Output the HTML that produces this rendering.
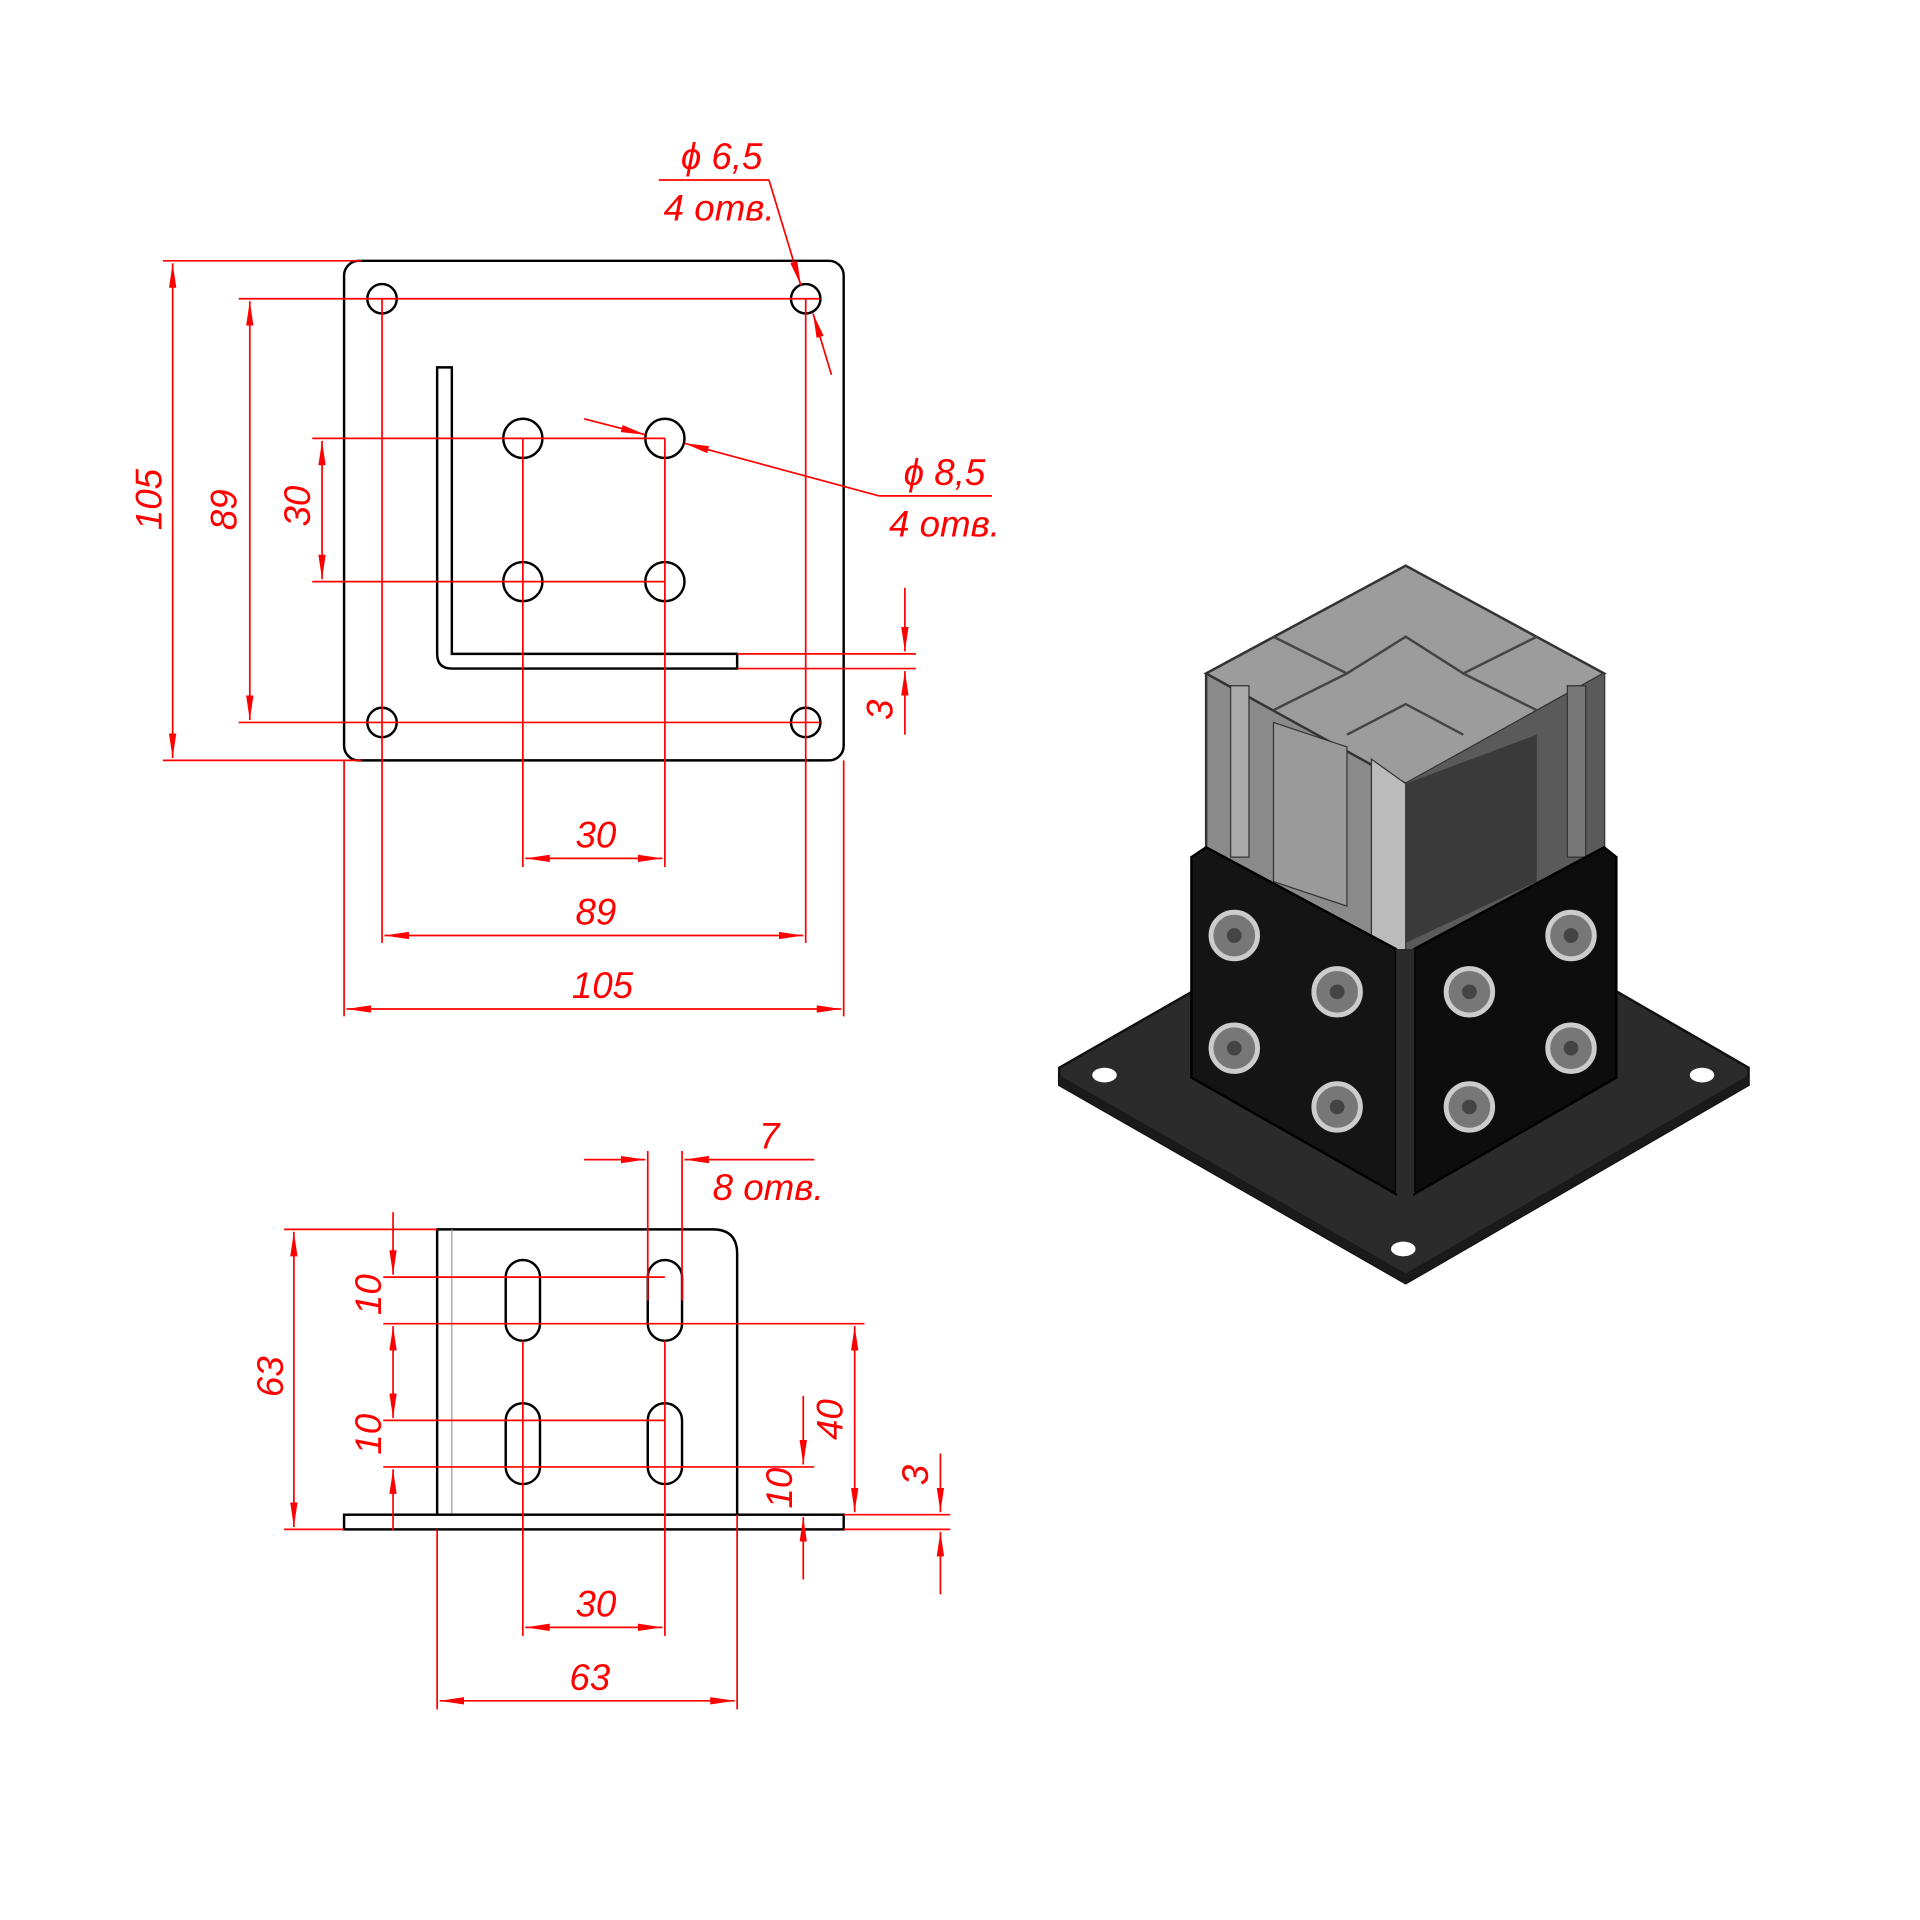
<!DOCTYPE html>
<html><head><meta charset="utf-8"><style>
html,body{margin:0;padding:0;background:#fff}
svg{display:block}
.k{fill:none;stroke:#000;stroke-width:2}
.r{fill:none;stroke:#f00;stroke-width:1.4}
.t{fill:#f00;font-family:"Liberation Sans",sans-serif;font-style:italic;font-size:30px}
</style></head><body>
<svg width="1920" height="1920" viewBox="0 0 1568 1568" xmlns="http://www.w3.org/2000/svg">
<defs>
<marker id="a" viewBox="0 0 20 6" refX="20" refY="3" markerWidth="20" markerHeight="6" orient="auto-start-reverse" markerUnits="userSpaceOnUse"><path d="M0,0 L20,3 L0,6 z" fill="#f00"/></marker>
</defs>
<!-- TOP VIEW -->
<rect x="281" y="213" width="408" height="408" rx="12" class="k"/>
<g class="k">
<circle cx="312" cy="244" r="12"/><circle cx="658" cy="244" r="12"/>
<circle cx="312" cy="590" r="12"/><circle cx="658" cy="590" r="12"/>
<circle cx="427" cy="358" r="16"/><circle cx="543" cy="358" r="16"/>
<circle cx="427" cy="475" r="16"/><circle cx="543" cy="475" r="16"/>
<path d="M357,300 H369 V534 H602 V546 H369 Q357,546 357,534 Z"/>
</g>
<g class="r">
<line x1="133" y1="213" x2="295" y2="213"/><line x1="133" y1="621" x2="295" y2="621"/>
<line x1="141" y1="215" x2="141" y2="619" marker-start="url(#a)" marker-end="url(#a)"/>
<line x1="195" y1="244" x2="670" y2="244"/><line x1="195" y1="590" x2="670" y2="590"/>
<line x1="204" y1="246" x2="204" y2="588" marker-start="url(#a)" marker-end="url(#a)"/>
<line x1="255" y1="358" x2="543" y2="358"/><line x1="255" y1="475" x2="543" y2="475"/>
<line x1="263" y1="360" x2="263" y2="473" marker-start="url(#a)" marker-end="url(#a)"/>
<line x1="312" y1="244" x2="312" y2="770"/><line x1="658" y1="244" x2="658" y2="770"/>
<line x1="281" y1="621" x2="281" y2="830"/><line x1="689" y1="621" x2="689" y2="830"/>
<line x1="427" y1="358" x2="427" y2="708"/><line x1="543" y1="358" x2="543" y2="708"/>
<line x1="429" y1="701" x2="541" y2="701" marker-start="url(#a)" marker-end="url(#a)"/>
<line x1="314" y1="764" x2="656" y2="764" marker-start="url(#a)" marker-end="url(#a)"/>
<line x1="283" y1="824" x2="687" y2="824" marker-start="url(#a)" marker-end="url(#a)"/>
<line x1="602" y1="534" x2="748" y2="534"/><line x1="602" y1="546" x2="748" y2="546"/>
<line x1="739" y1="480" x2="739" y2="532" marker-end="url(#a)"/>
<line x1="739" y1="600" x2="739" y2="548" marker-end="url(#a)"/>
<line x1="538" y1="147" x2="628" y2="147"/>
<line x1="628" y1="147" x2="654" y2="233" marker-end="url(#a)"/>
<line x1="679" y1="306" x2="664" y2="256" marker-end="url(#a)"/>
<line x1="810" y1="405" x2="718" y2="405"/>
<line x1="718" y1="405" x2="559" y2="362" marker-end="url(#a)"/>
<line x1="477" y1="342" x2="527" y2="355" marker-end="url(#a)"/>
</g>
<text class="t" transform="translate(132,433) rotate(-90)">105</text>
<text class="t" transform="translate(193,433) rotate(-90)">89</text>
<text class="t" transform="translate(253,430) rotate(-90)">30</text>
<text class="t" transform="translate(729,588) rotate(-90)">3</text>
<text class="t" x="470" y="692">30</text>
<text class="t" x="470" y="755">89</text>
<text class="t" x="467" y="815">105</text>
<text class="t" x="556" y="138">ϕ 6,5</text>
<text class="t" x="542" y="180">4 отв.</text>
<text class="t" x="738" y="396">ϕ 8,5</text>
<text class="t" x="726" y="438">4 отв.</text>
<!-- FRONT VIEW -->
<g class="k">
<path d="M357,1237 V1004 H582 Q602,1004 602,1024 V1237"/>
<line x1="369" y1="1004" x2="369" y2="1237" stroke-width="1" stroke="#999"/>
<rect x="281" y="1237" width="408" height="12"/>
<rect x="413" y="1029" width="28" height="66" rx="14"/><rect x="529" y="1029" width="28" height="66" rx="14"/>
<rect x="413" y="1146" width="28" height="66" rx="14"/><rect x="529" y="1146" width="28" height="66" rx="14"/>
</g>
<g class="r">
<line x1="232" y1="1004" x2="357" y2="1004"/><line x1="232" y1="1249" x2="281" y2="1249"/>
<line x1="240" y1="1006" x2="240" y2="1247" marker-start="url(#a)" marker-end="url(#a)"/>
<line x1="313" y1="1043" x2="543" y2="1043"/><line x1="313" y1="1081" x2="706" y2="1081"/>
<line x1="313" y1="1160" x2="543" y2="1160"/><line x1="313" y1="1198" x2="665" y2="1198"/>
<line x1="321" y1="990" x2="321" y2="1041" marker-end="url(#a)"/>
<line x1="321" y1="1083" x2="321" y2="1158" marker-start="url(#a)" marker-end="url(#a)"/>
<line x1="321" y1="1250" x2="321" y2="1200" marker-end="url(#a)"/>
<line x1="698" y1="1083" x2="698" y2="1235" marker-start="url(#a)" marker-end="url(#a)"/>
<line x1="656" y1="1140" x2="656" y2="1196" marker-end="url(#a)"/>
<line x1="656" y1="1290" x2="656" y2="1239" marker-end="url(#a)"/>
<line x1="689" y1="1237" x2="776" y2="1237"/><line x1="689" y1="1249" x2="776" y2="1249"/>
<line x1="768" y1="1187" x2="768" y2="1235" marker-end="url(#a)"/>
<line x1="768" y1="1302" x2="768" y2="1251" marker-end="url(#a)"/>
<line x1="427" y1="1095" x2="427" y2="1336"/><line x1="543" y1="1095" x2="543" y2="1336"/>
<line x1="529" y1="940" x2="529" y2="1062"/><line x1="557" y1="940" x2="557" y2="1062"/>
<line x1="477" y1="947" x2="527" y2="947" marker-end="url(#a)"/>
<line x1="665" y1="947" x2="559" y2="947" marker-end="url(#a)"/>
<line x1="429" y1="1329" x2="541" y2="1329" marker-start="url(#a)" marker-end="url(#a)"/>
<line x1="357" y1="1249" x2="357" y2="1396"/><line x1="602" y1="1237" x2="602" y2="1396"/>
<line x1="359" y1="1389" x2="600" y2="1389" marker-start="url(#a)" marker-end="url(#a)"/>
</g>
<text class="t" transform="translate(231,1141) rotate(-90)">63</text>
<text class="t" transform="translate(311,1074) rotate(-90)">10</text>
<text class="t" transform="translate(311,1188) rotate(-90)">10</text>
<text class="t" transform="translate(688,1176) rotate(-90)">40</text>
<text class="t" transform="translate(647,1232) rotate(-90)">10</text>
<text class="t" transform="translate(758,1213) rotate(-90)">3</text>
<text class="t" x="620" y="938">7</text>
<text class="t" x="582" y="980">8 отв.</text>
<text class="t" x="470" y="1320">30</text>
<text class="t" x="465" y="1380">63</text>
<!-- 3D VIEW -->
<polygon points="865,872 1148,710 1428,872 1428,886 1148,1048 865,886" fill="#2b2b2b" stroke="#111" stroke-width="2"/>
<polygon points="865,886 1148,1048 1428,886 1428,878 1148,1040 865,878" fill="#1a1a1a"/>
<ellipse cx="902" cy="878" rx="10" ry="6" fill="#fff"/><ellipse cx="1390" cy="878" rx="10" ry="6" fill="#fff"/>
<ellipse cx="1146" cy="1020" rx="10" ry="6" fill="#fff"/>
<polygon points="985,550 1148,462 1310,550 1310,700 1148,790 985,700" fill="#8a8a8a" stroke="#333" stroke-width="2"/>
<polygon points="985,550 1148,462 1310,550 1148,640" fill="#9c9c9c" stroke="#333" stroke-width="2"/>
<g stroke="#444" stroke-width="2" fill="none">
<polyline points="1040,520 1100,550 1148,520 1195,550 1255,520"/>
<polyline points="1040,580 1100,550"/><polyline points="1255,580 1195,550"/>
<polyline points="1100,600 1148,575 1195,600"/>
</g>
<polygon points="1148,640 1310,550 1310,700 1148,790" fill="#5a5a5a"/>
<polygon points="1148,640 1255,600 1255,720 1148,770" fill="#3a3a3a"/>
<polygon points="1040,590 1100,610 1100,740 1040,720" fill="#9a9a9a" stroke="#333"/>
<polygon points="1120,620 1148,640 1148,790 1120,780" fill="#bbb" stroke="#333"/>
<polygon points="1005,560 1020,560 1020,700 1005,700" fill="#aaa" stroke="#333"/>
<polygon points="1280,560 1295,560 1295,700 1280,700" fill="#777" stroke="#333"/>
<polygon points="973,700 985,692 1140,775 1140,975 973,880" fill="#141414" stroke="#000" stroke-width="2"/>
<polygon points="1155,775 1310,692 1320,700 1320,880 1155,975" fill="#0d0d0d" stroke="#000" stroke-width="2"/>
<polygon points="1140,775 1155,775 1155,975 1140,975" fill="#2a2a2a"/>
<g fill="#777" stroke="#ccc" stroke-width="4">
<circle cx="1008" cy="764" r="19"/><circle cx="1092" cy="810" r="19"/>
<circle cx="1008" cy="856" r="19"/><circle cx="1092" cy="904" r="19"/>
<circle cx="1200" cy="810" r="19"/><circle cx="1283" cy="764" r="19"/>
<circle cx="1200" cy="904" r="19"/><circle cx="1283" cy="856" r="19"/>
</g>
<g fill="#444">
<circle cx="1008" cy="764" r="6"/><circle cx="1092" cy="810" r="6"/>
<circle cx="1008" cy="856" r="6"/><circle cx="1092" cy="904" r="6"/>
<circle cx="1200" cy="810" r="6"/><circle cx="1283" cy="764" r="6"/>
<circle cx="1200" cy="904" r="6"/><circle cx="1283" cy="856" r="6"/>
</g>
</svg>
</body></html>
